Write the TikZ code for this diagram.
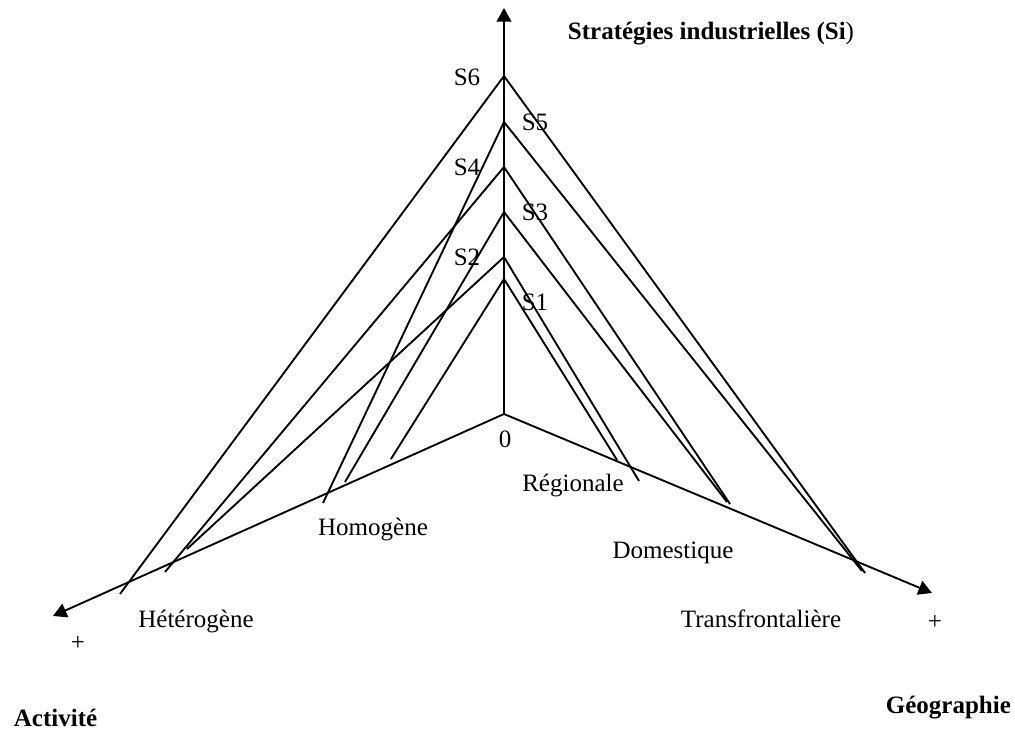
\documentclass[tikz,border=0pt]{standalone}
\usepackage{fontspec}
\setmainfont{Liberation Serif}
\usetikzlibrary{arrows.meta,positioning}

\begin{document}
\begin{tikzpicture}[x=0.48pt,y=-0.48pt, line width=.9pt
  ]
% Axis and label styles
\tikzstyle{axis} = [draw=black,-{Triangle[length=6.5pt,width=7pt]}]
\tikzstyle{strat} = [draw=black,line join=miter]
\tikzstyle{lbl} = [text=black,inner sep=0pt,anchor=base,font=\fontsize{12}{14}\selectfont]
\tikzstyle{ttl} = [lbl,anchor=base west,font=\fontsize{12}{14}\selectfont\bfseries]

\useasboundingbox (0,0) rectangle (1015,729);

% Axes
\coordinate (o) at (504,414);
\coordinate (top) at (504,8);
\coordinate (lt) at (53,616);
\coordinate (rt) at (932,593);
\draw[axis] (o)--(top);
\draw[axis] (o)--(lt);
\draw[axis] (o)--(rt);

% Strategies
\foreach \n/\y in {1/279,2/257,3/212,4/167,5/122,6/76}
\coordinate (s\n) at (504,\y);
\foreach \n/\a/\b/\c/\d in {1/391/459/617/460,2/187/549/639/481,3/345/482/727/502,4/165/572/730/504,5/323/503/862/571,6/120/594/865/573}
{\coordinate (l\n) at (\a,\b);
\coordinate (r\n) at (\c,\d);}
\foreach \n in {1,...,6}
\draw[strat] (l\n)--(s\n)--(r\n);

% Labels
\node[lbl] (t6) at (467,85) {S6};
\node[lbl] (t5) at (535,130) {S5};
\node[lbl] (t4) at (467,175) {S4};
\node[lbl] (t3) at (535,220) {S3};
\node[lbl] (t2) at (467,265) {S2};
\node[lbl] (t1) at (535,310) {S1};
\node[lbl] (zero) at (505,447) {0};

\node[lbl] (reg) at (573,491) {Régionale};
\node[lbl] (dom) at (673,558) {Domestique};
\node[lbl] (tra) at (761,627) {Transfrontalière};
\node[lbl] (hom) at (373,535) {Homogène};
\node[lbl] (het) at (196,627) {Hétérogène};
\node[lbl,anchor=center] (pl) at (78,643) {+};
\node[lbl,anchor=center] (pr) at (935,622) {+};

\node[ttl] (si) at (567,40) {Stratégies industrielles (Si\textmd{)}};
\node[ttl] (act) at (13,726) {Activité};
\node[ttl] (geo) at (885,713) {Géographie};
%---------------------
\end{tikzpicture}
\end{document}
